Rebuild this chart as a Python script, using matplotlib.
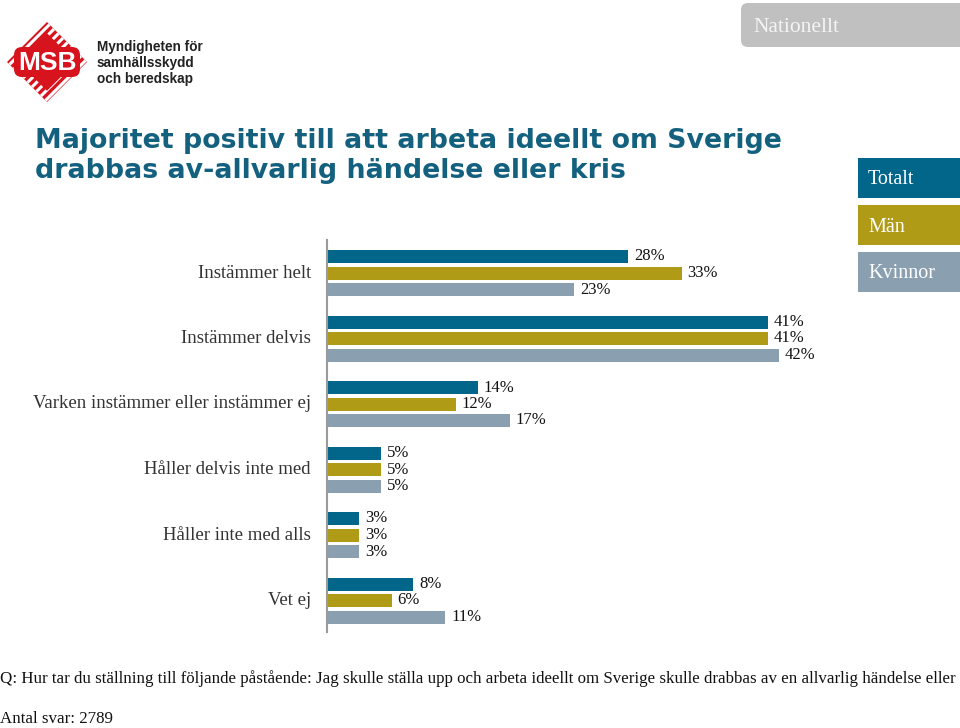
import numpy as np
import matplotlib
matplotlib.use("Agg")
from matplotlib import pyplot as plt
from matplotlib.patches import Polygon, FancyBboxPatch, Rectangle

# data
kategorier = ["Instämmer helt", "Instämmer delvis", "Varken instämmer eller instämmer ej",
              "Håller delvis inte med", "Håller inte med alls", "Vet ej"]
totalt = [28, 41, 14, 5, 3, 8]
man = [33, 41, 12, 5, 3, 6]
kvinnor = [23, 42, 17, 5, 3, 11]
serier = ["Totalt", "Män", "Kvinnor"]
farger = ["#02668b", "#b09b17", "#8a9fb0"]

titel = "Majoritet positiv till att arbeta ideellt om Sverige\ndrabbas av-allvarlig händelse eller kris"
fraga = ("Q: Hur tar du ställning till följande påstående: Jag skulle ställa upp och arbeta "
         "ideellt om Sverige skulle drabbas av en allvarlig händelse eller")
antal = "Antal svar: 2789"

W, H = 960, 728
fig = plt.figure(figsize=(W/100, H/100), dpi=100)

# bakgrundsaxel i pixlar
bg = fig.add_axes([0, 0, 1, 1])
bg.set_xlim(0, W)
bg.set_ylim(H, 0)
bg.axis("off")

# logga
rod = "#d7141e"
cx, cy, r = 47, 62, 40
diam = Polygon([[cx, cy-r], [cx+r, cy], [cx, cy+r], [cx-r, cy]], closed=True,
               facecolor=rod, edgecolor="none", zorder=1)
bg.add_patch(diam)
for k in np.arange(-2*r, 2*r, 9):
    ln, = bg.plot([cx-r+k-20, cx+r+k+20], [cy+r+20, cy-r-20], color="white", lw=2.2, zorder=2)
    ln.set_clip_path(diam)
ri = r*0.72
bg.add_patch(Polygon([[cx, cy-ri], [cx+ri, cy], [cx, cy+ri], [cx-ri, cy]], closed=True,
                     facecolor=rod, edgecolor="none", zorder=3))
bg.add_patch(FancyBboxPatch((cx-33, cy-15), 66, 30, boxstyle="round,pad=0,rounding_size=8",
                            facecolor=rod, edgecolor="none", zorder=3))
bg.text(cx, cy+1, "MSB", color="white", fontsize=19, fontweight="bold",
        family="Liberation Sans", ha="center", va="center", zorder=4)
for i, t in enumerate(["Myndigheten för", "samhällsskydd", "och beredskap"]):
    bg.text(97, 47 + i*16, t, fontsize=9.8, fontweight="bold", family="Liberation Sans",
            color="#222222", va="center", ha="left")

# Nationellt-ruta
bg.add_patch(FancyBboxPatch((741, 3), 240, 44, boxstyle="round,pad=0,rounding_size=7",
                            facecolor="#c0c0c0", edgecolor="none"))
bg.text(753, 28, "Nationellt", fontsize=15.5, family="Liberation Serif", color="#f4f4f4",
        va="center", ha="left")

# titel
bg.text(35, 156, titel, fontsize=19.3, fontweight="bold", family="DejaVu Sans",
        color="#14617f", va="center", ha="left", linespacing=1.2)

# teckenförklaring
for i, (s, f) in enumerate(zip(serier, farger)):
    y0 = 158 + i*47
    bg.add_patch(Rectangle((858, y0), 110, 40, facecolor=f, edgecolor="none"))
    bg.text(868, y0 + 22, s, fontsize=14.5, family="Liberation Serif", color="white",
            va="center", ha="left")

# kategorietiketter och fråga
pos = np.arange(len(kategorier))
for i, k in enumerate(kategorier):
    bg.text(311, 273 + i*65.5, k, fontsize=13.5, family="Liberation Serif",
            color="#333333", ha="right", va="center")
bg.text(0, 679, fraga, fontsize=12.2, family="Liberation Serif", color="#111111",
        ha="left", va="center")
bg.text(0, 719, antal, fontsize=12.2, family="Liberation Serif", color="#111111",
        ha="left", va="center")

# stapeldiagram
skala = 10.75
ax = fig.add_axes([327/W, 1 - 632/H, (W-327)/W, 392/H])
ax.patch.set_alpha(0)
ax.set_xlim(0, (W-327)/skala)
ax.set_ylim(5 + 31.5/65.5, -33/65.5)
h = 13/65.5
off = 16.5/65.5
for j, (vals, f) in enumerate(zip([totalt, man, kvinnor], farger)):
    yy = pos + (j-1)*off
    ax.barh(yy, vals, height=h, color=f)
    for y, v in zip(yy, vals):
        ax.text(v + 0.55, y, f"{v}%", fontsize=12, family="Liberation Serif",
                color="#111111", va="center", ha="left")
for s in ["top", "right", "bottom"]:
    ax.spines[s].set_visible(False)
ax.spines["left"].set_color("#9a9a9a")
ax.spines["left"].set_linewidth(1.5)
ax.set_xticks([])
ax.set_yticks([])

fig.savefig("out.png", dpi=100)
